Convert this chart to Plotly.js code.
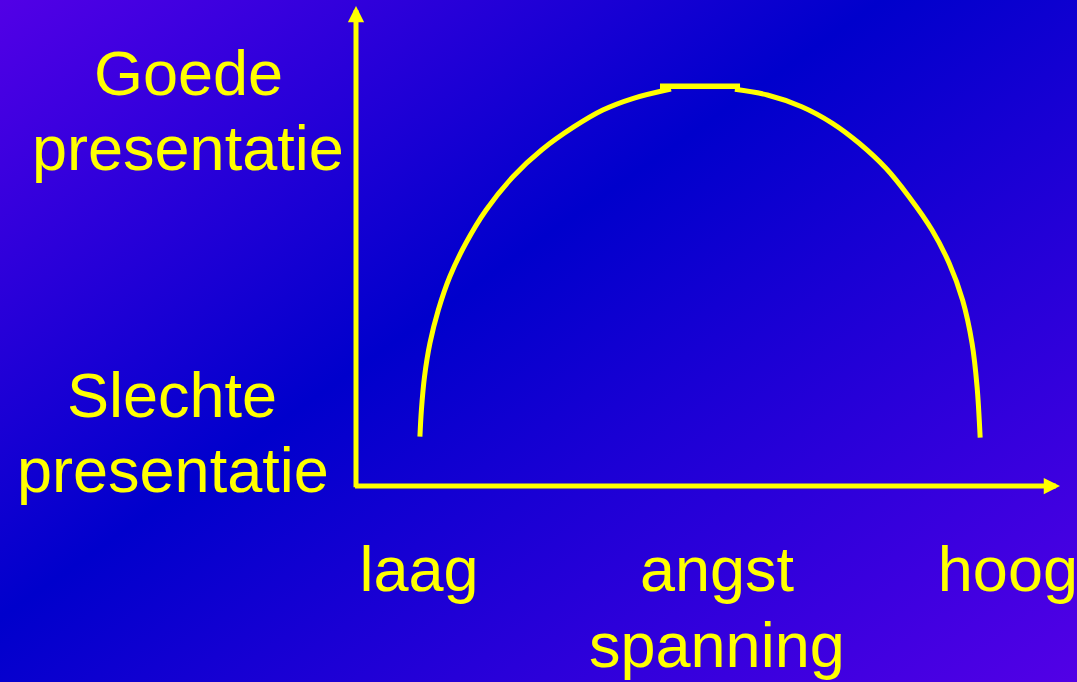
<!DOCTYPE html>
<html>
<head>
<meta charset="utf-8">
<script src="https://cdn.plot.ly/plotly-3.0.1.min.js"></script>
<style>
  html, body { margin: 0; padding: 0; }
  body {
    width: 1077px; height: 682px; overflow: hidden;
    background: linear-gradient(145deg, #5200e6 0%, #0000cc 43%, #5200e6 100%);
  }
  #chart { width: 1077px; height: 682px; }
</style>
</head>
<body>
<div id="chart"></div>
<script>
// ---- data (x: angst/spanning, y: presentatie) ----
const leftArcX  = [9.08, 9.29, 9.73, 10.5, 11.69, 13.32, 15.6, 18.48, 22.29, 26.36, 30.98, 35.06, 39.4, 44.74];
const leftArcY  = [10.27, 15.83, 22.77, 29.73, 36.67, 43.6, 50.56, 57.5, 64.44, 70.0, 74.85, 78.33, 80.77, 82.71];
const topX      = [43.18, 54.55];
const topY      = [83.27, 83.27];
const rightArcX = [53.82, 58.44, 63.32, 67.68, 71.48, 75.28, 78.55, 81.82, 84.26, 86.16, 87.51, 88.22, 88.66];
const rightArcY = [82.65, 81.46, 79.02, 75.56, 71.4, 66.19, 60.27, 53.33, 46.4, 38.75, 29.73, 20.69, 10.06];

const xTickVals   = [8.95, 51.28, 92.6];
const xTickLabels = ['laag', 'angst', 'hoog'];
const xTitleText  = 'spanning';
const yTopLabel    = ['Goede', 'presentatie'];
const yBottomLabel = ['Slechte', 'presentatie'];

const YELLOW = '#ffff00';
const FONT = 'Liberation Sans, Arial, Helvetica, sans-serif';
const FS = 63;

const lineStyle = {color: YELLOW, width: 5, shape: 'spline', smoothing: 1};
const traces = [
  {x: leftArcX, y: leftArcY, mode: 'lines', line: lineStyle, hoverinfo: 'skip', showlegend: false},
  {x: topX, y: topY, mode: 'lines', line: {color: YELLOW, width: 5.5}, hoverinfo: 'skip', showlegend: false},
  {x: rightArcX, y: rightArcY, mode: 'lines', line: lineStyle, hoverinfo: 'skip', showlegend: false}
];

function txt(text, x, y, xref) {
  return {text: text, x: x, y: y, xref: xref || 'paper', yref: 'paper',
          xanchor: 'center', yanchor: 'middle', showarrow: false,
          font: {family: FONT, size: FS, color: YELLOW}};
}
function arrow(x, y, ax, ay) {
  return {text: '', x: x, y: y, ax: ax, ay: ay, xref: 'x', yref: 'y', axref: 'x', ayref: 'y',
          showarrow: true, arrowhead: 2, arrowsize: 0.65, arrowwidth: 5, arrowcolor: YELLOW,
          standoff: 0, startstandoff: 0};
}

const annotations = [
  arrow(0, 100, 0, -0.55),
  arrow(100, 0, -0.35, 0),
  txt(yTopLabel[0], -0.2379, 0.8604),
  txt(yTopLabel[1], -0.2386, 0.7042),
  txt(yBottomLabel[0], -0.2607, 0.1896),
  txt(yBottomLabel[1], -0.2599, 0.0333),
  txt(xTitleText, xTickVals[1], -0.33125, 'x')
];

const layout = {
  width: 1077, height: 682, autosize: false,
  margin: {l: 356, r: 17, t: 6, b: 196, pad: 0},
  paper_bgcolor: 'rgba(0,0,0,0)',
  plot_bgcolor: 'rgba(0,0,0,0)',
  showlegend: false,
  xaxis: {
    range: [0, 100], showgrid: false, zeroline: false, showline: false,
    ticks: '', tickmode: 'array', tickvals: xTickVals, ticktext: xTickLabels,
    tickfont: {family: FONT, size: FS, color: YELLOW},
    ticklabelstandoff: 41, ticklabeloverflow: 'allow',
    automargin: false, fixedrange: true
  },
  yaxis: {
    range: [0, 100], showgrid: false, zeroline: false, showline: false,
    showticklabels: false, ticks: '', automargin: false, fixedrange: true
  },
  annotations: annotations
};

Plotly.newPlot('chart', traces, layout, {displayModeBar: false, staticPlot: true});
</script>
</body>
</html>
